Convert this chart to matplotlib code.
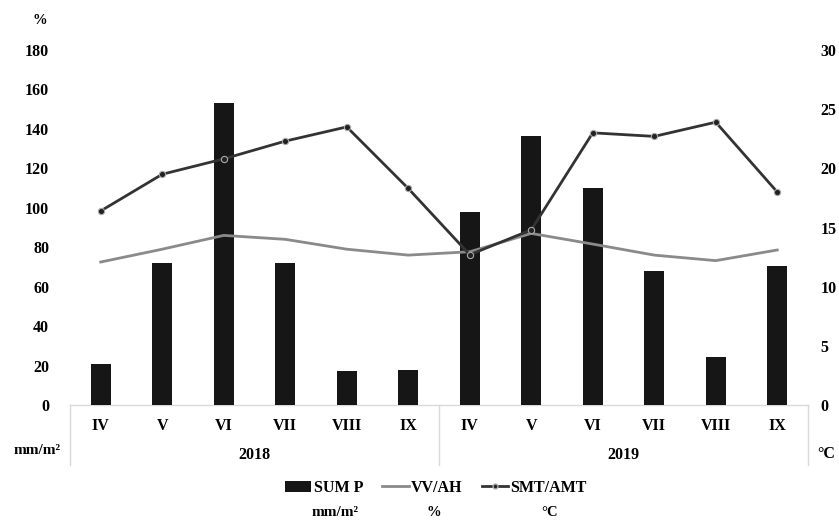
import matplotlib
matplotlib.use("Agg")
import matplotlib.pyplot as plt
import matplotlib.transforms as mtransforms
from matplotlib.lines import Line2D
from matplotlib.patches import Patch
import numpy as np

months = ["IV", "V", "VI", "VII", "VIII", "IX", "IV", "V", "VI", "VII", "VIII", "IX"]
years = ["2018", "2019"]
sum_p = [21, 72, 153, 72, 17, 18, 98, 136.5, 110, 68, 24.5, 70.5]          # mm/m2
vv_ah = [72.5, 79, 86, 84, 79, 76, 77.7, 87, 81.6, 76, 73.2, 78.6]          # %
smt_amt = [16.4, 19.5, 20.8, 22.3, 23.5, 18.3, 12.7, 14.8, 23.0, 22.7, 23.9, 18.0]  # °C
left_ticks = [0, 20, 40, 60, 80, 100, 120, 140, 160, 180]
right_ticks = [0, 5, 10, 15, 20, 25, 30]

plt.rcParams['font.family'] = ['Liberation Serif', 'DejaVu Serif']
plt.rcParams['font.weight'] = 'bold'
FS = 11.5

fig = plt.figure(figsize=(8.39, 5.22), dpi=100)
ax = fig.add_axes([70/839, 1-405/522, (808-70)/839, (405-50)/522])
ax2 = ax.twinx()

x = np.arange(len(months))
ax.bar(x, sum_p, width=0.33, color='#161616', zorder=2)
ax.plot(x, vv_ah, color='#8a8a8a', lw=2, zorder=3)
ax2.plot(x, smt_amt, color='#333333', lw=2, marker='o', ms=4.5,
         mfc='#222222', mec='#aaaaaa', mew=0.8, zorder=4)

ax.set_xlim(-0.5, len(months) - 0.5)
ax.set_ylim(0, 180)
ax2.set_ylim(0, 30)
ax.set_yticks(left_ticks)
ax.set_yticklabels([str(v) for v in left_ticks], fontsize=FS, fontweight='bold')
ax2.set_yticks(right_ticks)
ax2.set_yticklabels([str(v) for v in right_ticks], fontsize=FS, fontweight='bold')
ax.set_xticks(x)
ax.set_xticklabels(months, fontsize=FS, fontweight='bold')
ax.tick_params(axis='x', length=0, pad=9)
ax.tick_params(axis='y', length=0, pad=15)
ax2.tick_params(axis='y', length=0, pad=9)

for a in (ax, ax2):
    for s in ['top', 'left', 'right', 'bottom']:
        a.spines[s].set_visible(False)

ax.set_zorder(ax2.get_zorder() - 1)
ax.patch.set_visible(False)

# category axis line and separators
trans = mtransforms.blended_transform_factory(ax.transData, ax.transAxes)
sep_color = '#d9d9d9'
ax.plot([-0.5, 11.5], [0, 0], color=sep_color, lw=1, transform=trans, clip_on=False, zorder=1)
for xs in [-0.5, 5.5, 11.5]:
    ax.plot([xs, xs], [0, -60/355], color=sep_color, lw=1, transform=trans, clip_on=False)
ax.text(2.5, -50/355, years[0], transform=trans, ha='center', va='center', fontsize=FS, fontweight='bold')
ax.text(8.5, -50/355, years[1], transform=trans, ha='center', va='center', fontsize=FS, fontweight='bold')

# unit labels
fig.text(40/839, 1-20/522, '%', ha='center', va='center', fontsize=FS-1, fontweight='bold')
fig.text(37/839, 1-451/522, 'mm/m²', ha='center', va='center', fontsize=FS-0.5, fontweight='bold')
fig.text(826/839, 1-454/522, '°C', ha='center', va='center', fontsize=FS, fontweight='bold')

handles = [Patch(facecolor='#161616'),
           Line2D([0], [0], color='#8a8a8a', lw=2),
           Line2D([0], [0], color='#333333', lw=2, marker='o', ms=3.5, mfc='#222222', mec='#aaaaaa')]
fig.legend(handles, ['SUM P', 'VV/AH', 'SMT/AMT'], loc='center', ncol=3,
           bbox_to_anchor=(436/839, 1-488/522), frameon=False,
           prop={'size': FS, 'weight': 'bold'}, handlelength=1.65, handletextpad=0.15,
           columnspacing=1.2)
fig.text(335/839, 1-512/522, 'mm/m²', ha='center', va='center', fontsize=FS-0.5, fontweight='bold')
fig.text(434/839, 1-512/522, '%', ha='center', va='center', fontsize=FS-1, fontweight='bold')
fig.text(550/839, 1-512/522, '°C', ha='center', va='center', fontsize=FS-1, fontweight='bold')

fig.savefig('out.png', dpi=100)
